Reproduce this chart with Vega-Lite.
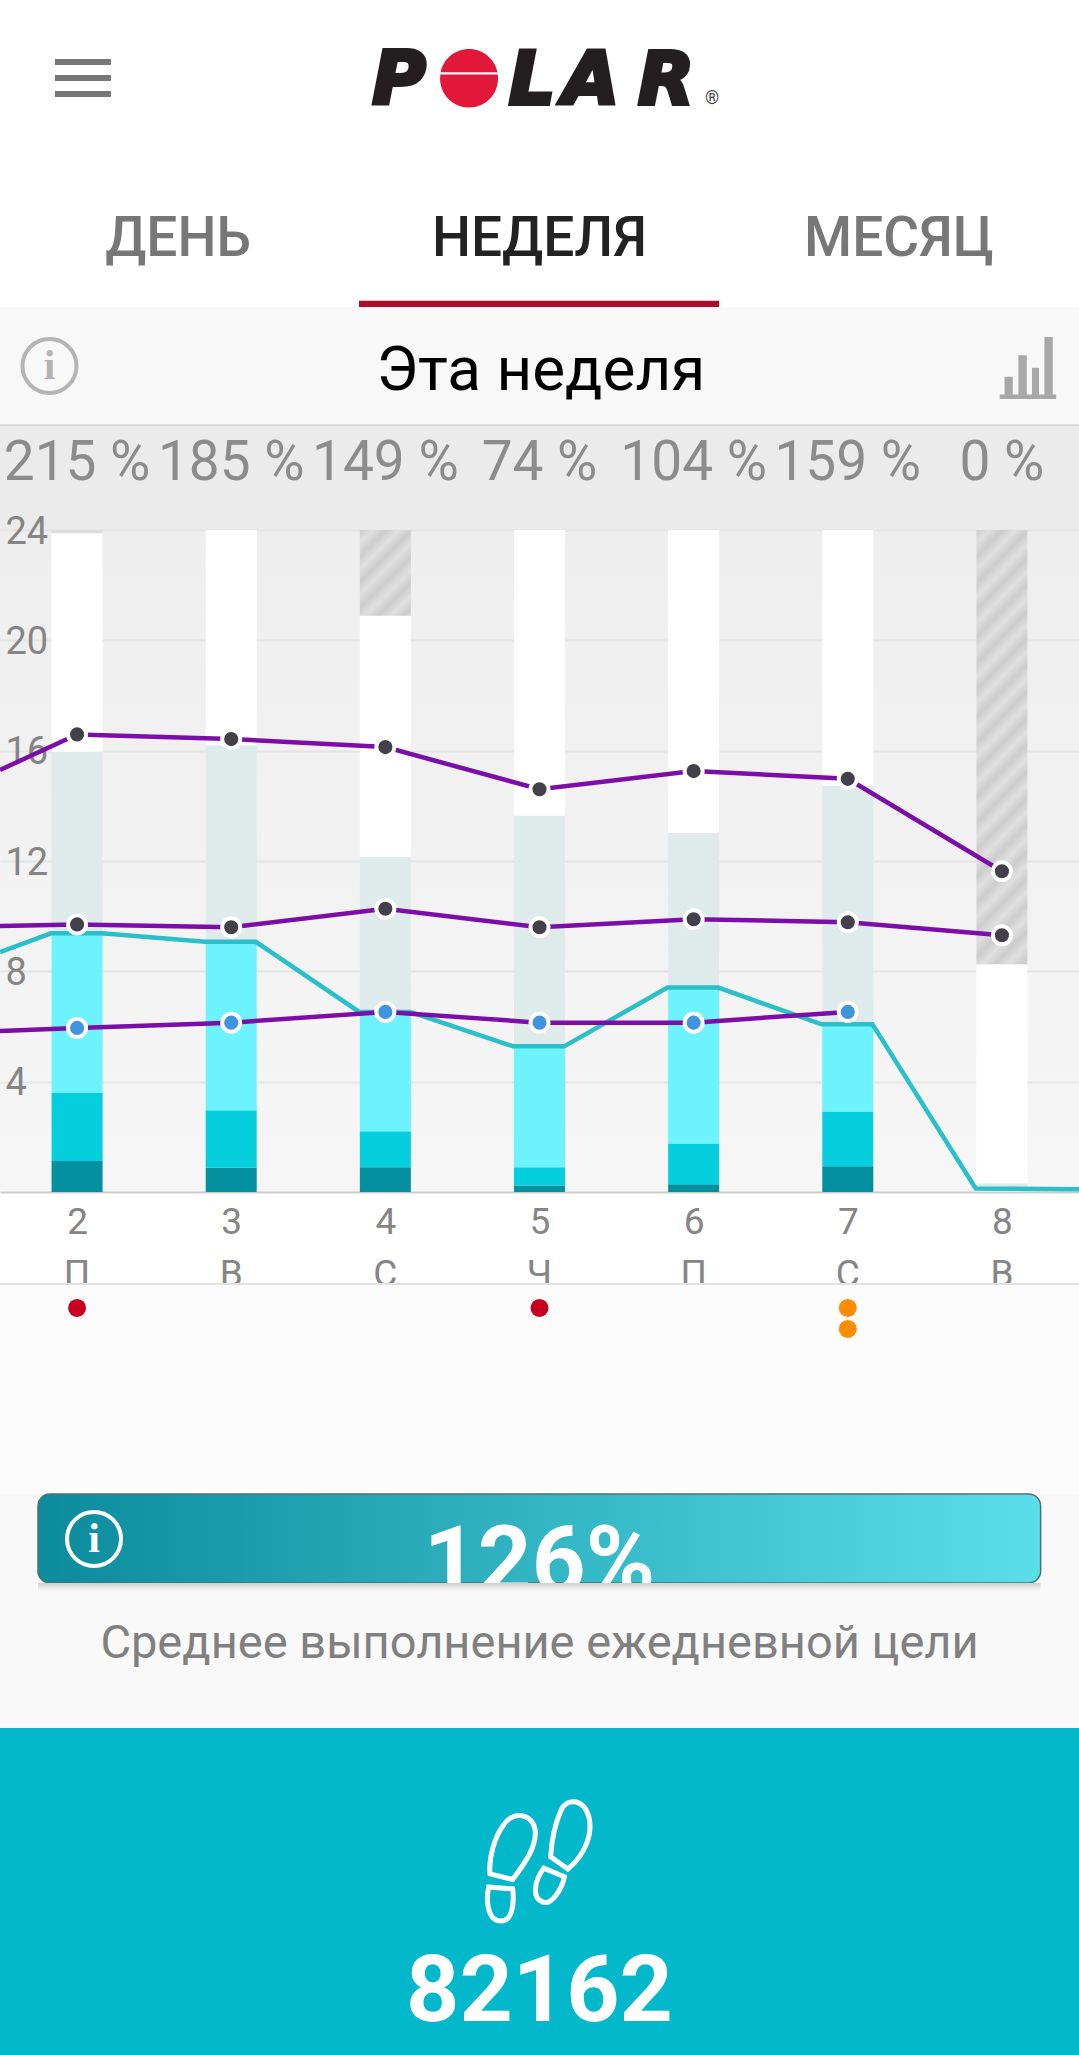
{
  "$schema": "https://vega.github.io/schema/vega-lite/v6.json",
  "description": "Polar weekly activity screen",
  "background": "#ffffff",
  "padding": 0,
  "spacing": 0,
  "bounds": "flush",
  "resolve": {"scale": {"color": "independent", "fill": "independent"}},
  "config": {"view": {"stroke": null}, "font": "Roboto"},
  "datasets": {
    "bars": [
      {"day": 2, "segment": "high", "from": 0, "to": 1.12},
      {"day": 2, "segment": "medium", "from": 1.12, "to": 3.61},
      {"day": 2, "segment": "low", "from": 3.61, "to": 9.38},
      {"day": 2, "segment": "rest", "from": 9.38, "to": 15.96},
      {"day": 2, "segment": "free", "from": 15.96, "to": 23.88},
      {"day": 3, "segment": "high", "from": 0, "to": 0.88},
      {"day": 3, "segment": "medium", "from": 0.88, "to": 2.96},
      {"day": 3, "segment": "low", "from": 2.96, "to": 9.07},
      {"day": 3, "segment": "rest", "from": 9.07, "to": 16.2},
      {"day": 3, "segment": "free", "from": 16.2, "to": 24},
      {"day": 4, "segment": "high", "from": 0, "to": 0.9},
      {"day": 4, "segment": "medium", "from": 0.9, "to": 2.2},
      {"day": 4, "segment": "low", "from": 2.2, "to": 6.53},
      {"day": 4, "segment": "rest", "from": 6.53, "to": 12.15},
      {"day": 4, "segment": "free", "from": 12.15, "to": 20.89},
      {"day": 5, "segment": "high", "from": 0, "to": 0.24},
      {"day": 5, "segment": "medium", "from": 0.24, "to": 0.9},
      {"day": 5, "segment": "low", "from": 0.9, "to": 5.28},
      {"day": 5, "segment": "rest", "from": 5.28, "to": 13.64},
      {"day": 5, "segment": "free", "from": 13.64, "to": 24},
      {"day": 6, "segment": "high", "from": 0, "to": 0.28},
      {"day": 6, "segment": "medium", "from": 0.28, "to": 1.76},
      {"day": 6, "segment": "low", "from": 1.76, "to": 7.41},
      {"day": 6, "segment": "rest", "from": 7.41, "to": 13.02},
      {"day": 6, "segment": "free", "from": 13.02, "to": 24},
      {"day": 7, "segment": "high", "from": 0, "to": 0.93},
      {"day": 7, "segment": "medium", "from": 0.93, "to": 2.92},
      {"day": 7, "segment": "low", "from": 2.92, "to": 6.08},
      {"day": 7, "segment": "rest", "from": 6.08, "to": 14.73},
      {"day": 7, "segment": "free", "from": 14.73, "to": 24},
      {"day": 8, "segment": "rest", "from": 0, "to": 0.32},
      {"day": 8, "segment": "free", "from": 0.32, "to": 8.26},
      {"day": 2, "segment": "sliver", "from": 23.88, "to": 24}
    ],
    "steps": [
      {"col": 1.5, "hours": 8.7},
      {"col": 1.83, "hours": 9.38},
      {"col": 2.16, "hours": 9.38},
      {"col": 2.83, "hours": 9.07},
      {"col": 3.16, "hours": 9.07},
      {"col": 3.83, "hours": 6.53},
      {"col": 4.16, "hours": 6.53},
      {"col": 4.83, "hours": 5.28},
      {"col": 5.16, "hours": 5.28},
      {"col": 5.83, "hours": 7.41},
      {"col": 6.16, "hours": 7.41},
      {"col": 6.83, "hours": 6.08},
      {"col": 7.16, "hours": 6.08},
      {"col": 7.83, "hours": 0.13},
      {"col": 8.5, "hours": 0.1}
    ],
    "sleep": [
      {"series": "wake", "col": 1.5, "hours": 15.3},
      {"series": "wake", "col": 2, "hours": 16.59},
      {"series": "wake", "col": 3, "hours": 16.42},
      {"series": "wake", "col": 4, "hours": 16.13},
      {"series": "wake", "col": 5, "hours": 14.6},
      {"series": "wake", "col": 6, "hours": 15.26},
      {"series": "wake", "col": 7, "hours": 14.98},
      {"series": "wake", "col": 8, "hours": 11.63},
      {"series": "bed", "col": 1.5, "hours": 9.64},
      {"series": "bed", "col": 2, "hours": 9.7},
      {"series": "bed", "col": 3, "hours": 9.6},
      {"series": "bed", "col": 4, "hours": 10.27},
      {"series": "bed", "col": 5, "hours": 9.6},
      {"series": "bed", "col": 6, "hours": 9.89},
      {"series": "bed", "col": 7, "hours": 9.78},
      {"series": "bed", "col": 8, "hours": 9.31},
      {"series": "score", "col": 1.5, "hours": 5.84},
      {"series": "score", "col": 2, "hours": 5.95},
      {"series": "score", "col": 3, "hours": 6.14},
      {"series": "score", "col": 4, "hours": 6.53},
      {"series": "score", "col": 5, "hours": 6.14},
      {"series": "score", "col": 6, "hours": 6.14},
      {"series": "score", "col": 7, "hours": 6.53}
    ]
  },
  "vconcat": [
    {
      "width": 1079,
      "height": 307,
      "encoding": {
        "x": {"field": "col", "type": "quantitative", "scale": {"domain": [1.5, 8.5], "nice": false}, "axis": null},
        "y": {"field": "row", "type": "quantitative", "scale": {"domain": [0, 1], "reverse": true, "nice": false}, "axis": null}
      },
      "layer": [
        {
          "data": {"values": [{"col": 2.038, "row": 0.254}]},
          "mark": {"type": "point", "shape": "M-1,-0.68H1V-0.464H-1Z M-1,-0.107H1V0.107H-1Z M-1,0.464H1V0.68H-1Z", "filled": true, "size": 3136, "color": "#777777", "opacity": 1}
        },
        {
          "data": {"values": [{"letter": "P", "col": 4.089, "row": 0.34}, {"letter": "L", "col": 4.951, "row": 0.34}, {"letter": "A", "col": 5.334, "row": 0.34}, {"letter": "R", "col": 5.821, "row": 0.34}]},
          "mark": {"type": "text", "font": "DejaVu Sans", "fontWeight": "bold", "fontStyle": "italic", "fontSize": 73, "baseline": "alphabetic", "align": "center", "color": "#231f20", "stroke": "#231f20", "strokeWidth": 4},
          "encoding": {"text": {"field": "letter"}}
        },
        {
          "data": {"values": [{"col": 4.543, "row": 0.254}]},
          "mark": {"type": "point", "shape": "M-0.98,-0.2A1,1 0 0 1 0.98,-0.2Z M-0.99,-0.12A1,1 0 1 0 0.99,-0.12Z", "filled": true, "size": 3364, "color": "#e3173a", "opacity": 1}
        },
        {
          "data": {"values": [{"mark": "®", "col": 6.119, "row": 0.322}]},
          "mark": {"type": "text", "fontSize": 18, "baseline": "middle", "color": "#444444"},
          "encoding": {"text": {"field": "mark"}}
        },
        {
          "data": {"values": [{"tab": "ДЕНЬ", "col": 2.655, "row": 0.834, "active": "no"}, {"tab": "НЕДЕЛЯ", "col": 5, "row": 0.834, "active": "yes"}, {"tab": "МЕСЯЦ", "col": 7.332, "row": 0.834, "active": "no"}]},
          "mark": {"type": "text", "fontSize": 55, "fontWeight": 500, "baseline": "alphabetic"},
          "encoding": {
            "text": {"field": "tab"},
            "color": {"field": "active", "type": "nominal", "scale": {"domain": ["no", "yes"], "range": ["#777777", "#222222"]}, "legend": null}
          }
        },
        {
          "data": {"values": [{"col": 3.829, "col2": 6.165, "row": 0.98, "row2": 1}]},
          "mark": {"type": "rect", "color": "#ae0c2a"},
          "encoding": {"x2": {"field": "col2"}, "y2": {"field": "row2"}}
        }
      ]
    },
    {
      "width": 1079,
      "height": 119,
      "view": {"fill": "#f8f8f8"},
      "encoding": {
        "x": {"field": "col", "type": "quantitative", "scale": {"domain": [1.5, 8.5], "nice": false}, "axis": null},
        "y": {"field": "row", "type": "quantitative", "scale": {"domain": [0, 1], "reverse": true, "nice": false}, "axis": null}
      },
      "layer": [
        {
          "data": {"values": [{"col": 1.821, "row": 0.496}]},
          "mark": {"type": "point", "shape": "circle", "filled": false, "size": 2916, "stroke": "#b4b4b4", "strokeWidth": 4, "opacity": 1}
        },
        {
          "data": {"values": [{"glyph": "i", "col": 1.821, "row": 0.496}]},
          "mark": {"type": "text", "font": "Liberation Serif", "fontSize": 42, "fontWeight": "bold", "baseline": "middle", "color": "#b4b4b4"},
          "encoding": {"text": {"field": "glyph"}}
        },
        {
          "data": {"values": [{"title": "Эта неделя", "col": 5.008, "row": 0.697}]},
          "mark": {"type": "text", "fontSize": 62, "baseline": "alphabetic", "color": "#000000"},
          "encoding": {"text": {"field": "title"}}
        },
        {
          "data": {"values": [{"col": 8.169, "row": 0.513}]},
          "mark": {"type": "point", "shape": "M-0.755,0.28H-0.49V1H-0.755Z M-0.31,-0.41H-0.04V1H-0.31Z M0.13,-0.01H0.356V1H0.13Z M0.53,-1H0.8V1H0.53Z M-0.91,0.85H0.91V1H-0.91Z", "filled": true, "size": 3844, "color": "#a8a8a8", "opacity": 1}
        },
        {
          "data": {"values": [{"col": 1.5, "col2": 8.5, "row": 0.985, "row2": 1}]},
          "mark": {"type": "rect", "color": "#d8d8d8"},
          "encoding": {"x2": {"field": "col2"}, "y2": {"field": "row2"}}
        }
      ]
    },
    {
      "width": 1079,
      "height": 104,
      "view": {"fill": "#ebebeb"},
      "data": {"values": [
        {"day": 2, "score": "215 %", "row": 0.519},
        {"day": 3, "score": "185 %", "row": 0.519},
        {"day": 4, "score": "149 %", "row": 0.519},
        {"day": 5, "score": "74 %", "row": 0.519},
        {"day": 6, "score": "104 %", "row": 0.519},
        {"day": 7, "score": "159 %", "row": 0.519},
        {"day": 8, "score": "0 %", "row": 0.519}
      ]},
      "mark": {"type": "text", "fontSize": 55, "baseline": "alphabetic", "color": "#8c8c8c"},
      "encoding": {
        "x": {"field": "day", "type": "quantitative", "scale": {"domain": [1.5, 8.5], "nice": false}, "axis": null},
        "y": {"field": "row", "type": "quantitative", "scale": {"domain": [0, 1], "reverse": true, "nice": false}, "axis": null},
        "text": {"field": "score"}
      }
    },
    {
      "width": 1079,
      "height": 662,
      "view": {"fill": {"gradient": "linear", "x1": 0, "y1": 0, "x2": 0, "y2": 1, "stops": [{"offset": 0, "color": "#eeeeee"}, {"offset": 1, "color": "#f6f6f6"}]}},
      "layer": [
        {
          "data": {"name": "bars"},
          "transform": [{"filter": "datum.segment != 'sliver'"}],
          "mark": {"type": "bar", "size": 51},
          "encoding": {
            "x": {"field": "day", "type": "quantitative", "scale": {"domain": [1.5, 8.5], "nice": false, "padding": 0}, "title": null, "axis": {"values": [2, 3, 4, 5, 6, 7, 8], "format": "d", "grid": false, "ticks": false, "domainColor": "#cccccc", "domainWidth": 2, "labelFontSize": 37, "labelColor": "#858585", "labelPadding": 12, "labelFont": "Roboto", "labelOverlap": false}},
            "y": {"field": "from", "type": "quantitative", "scale": {"domain": [0, 24], "nice": false}, "title": null, "axis": {"values": [4, 8, 12, 16, 20, 24], "grid": true, "gridColor": "#e4e4e4", "gridWidth": 2, "ticks": false, "domain": false, "labelAlign": "left", "labelPadding": -5, "labelOffset": 2, "labelFontSize": 38, "labelColor": "#858585", "labelFont": "Roboto", "labelOverlap": false}},
            "y2": {"field": "to"},
            "color": {"field": "segment", "type": "nominal", "scale": {"domain": ["high", "medium", "low", "rest", "free"], "range": ["#03919f", "#05cede", "#6cf3fd", "#dfebeb", "#ffffff"]}, "legend": null}
          }
        },
        {
          "data": {"values": [{"day": 2, "from": 23.88, "to": 24}]},
          "mark": {"type": "bar", "size": 51, "color": "#dcdcdc"},
          "encoding": {
            "x": {"field": "day", "type": "quantitative"},
            "y": {"field": "from", "type": "quantitative"},
            "y2": {"field": "to"}
          }
        },
        {
          "data": {"values": [{"day": 4, "from": 20.89, "to": 24}]},
          "mark": {"type": "bar", "size": 51, "color": {"gradient": "linear", "x1": 0, "y1": 0, "x2": 0.699, "y2": 1.1785, "stops": [
            {"offset": 0, "color": "#cccccc"}, {"offset": 0.095, "color": "#e0e0e0"}, {"offset": 0.19, "color": "#cccccc"}, {"offset": 0.285, "color": "#e0e0e0"}, {"offset": 0.38, "color": "#cccccc"}, {"offset": 0.475, "color": "#e0e0e0"}, {"offset": 0.57, "color": "#cccccc"}, {"offset": 0.665, "color": "#e0e0e0"}, {"offset": 0.76, "color": "#cccccc"}, {"offset": 0.855, "color": "#e0e0e0"}, {"offset": 0.95, "color": "#cccccc"}, {"offset": 1, "color": "#d8d8d8"}
          ]}},
          "encoding": {
            "x": {"field": "day", "type": "quantitative"},
            "y": {"field": "from", "type": "quantitative"},
            "y2": {"field": "to"}
          }
        },
        {
          "data": {"values": [{"day": 8, "from": 8.26, "to": 24}]},
          "mark": {"type": "bar", "size": 51, "color": {"gradient": "linear", "x1": 0, "y1": 0, "x2": 0.1328, "y2": 1.1044, "stops": [
            {"offset": 0, "color": "#cccccc"}, {"offset": 0.0274, "color": "#e0e0e0"}, {"offset": 0.0548, "color": "#cccccc"}, {"offset": 0.0822, "color": "#e0e0e0"}, {"offset": 0.1096, "color": "#cccccc"}, {"offset": 0.137, "color": "#e0e0e0"}, {"offset": 0.1644, "color": "#cccccc"}, {"offset": 0.1918, "color": "#e0e0e0"}, {"offset": 0.2192, "color": "#cccccc"}, {"offset": 0.2466, "color": "#e0e0e0"}, {"offset": 0.274, "color": "#cccccc"}, {"offset": 0.3014, "color": "#e0e0e0"}, {"offset": 0.3288, "color": "#cccccc"}, {"offset": 0.3562, "color": "#e0e0e0"}, {"offset": 0.3836, "color": "#cccccc"}, {"offset": 0.411, "color": "#e0e0e0"}, {"offset": 0.4384, "color": "#cccccc"}, {"offset": 0.4658, "color": "#e0e0e0"}, {"offset": 0.4932, "color": "#cccccc"}, {"offset": 0.5206, "color": "#e0e0e0"}, {"offset": 0.548, "color": "#cccccc"}, {"offset": 0.5754, "color": "#e0e0e0"}, {"offset": 0.6028, "color": "#cccccc"}, {"offset": 0.6302, "color": "#e0e0e0"}, {"offset": 0.6576, "color": "#cccccc"}, {"offset": 0.685, "color": "#e0e0e0"}, {"offset": 0.7124, "color": "#cccccc"}, {"offset": 0.7398, "color": "#e0e0e0"}, {"offset": 0.7672, "color": "#cccccc"}, {"offset": 0.7946, "color": "#e0e0e0"}, {"offset": 0.822, "color": "#cccccc"}, {"offset": 0.8494, "color": "#e0e0e0"}, {"offset": 0.8768, "color": "#cccccc"}, {"offset": 0.9042, "color": "#e0e0e0"}, {"offset": 0.9316, "color": "#cccccc"}, {"offset": 0.959, "color": "#e0e0e0"}, {"offset": 0.9864, "color": "#cccccc"}, {"offset": 1, "color": "#d4d4d4"}
          ]}},
          "encoding": {
            "x": {"field": "day", "type": "quantitative"},
            "y": {"field": "from", "type": "quantitative"},
            "y2": {"field": "to"}
          }
        },
        {
          "data": {"name": "steps"},
          "mark": {"type": "line", "color": "#2bbfc9", "strokeWidth": 4.5, "clip": true},
          "encoding": {
            "x": {"field": "col", "type": "quantitative"},
            "y": {"field": "hours", "type": "quantitative"}
          }
        },
        {
          "data": {"name": "sleep"},
          "mark": {"type": "line", "color": "#7c0da8", "strokeWidth": 4.5, "clip": true},
          "encoding": {
            "x": {"field": "col", "type": "quantitative"},
            "y": {"field": "hours", "type": "quantitative"},
            "detail": {"field": "series"}
          }
        },
        {
          "data": {"name": "sleep"},
          "transform": [{"filter": "datum.col >= 2"}],
          "mark": {"type": "circle", "size": 484, "color": "#ffffff", "opacity": 1},
          "encoding": {
            "x": {"field": "col", "type": "quantitative"},
            "y": {"field": "hours", "type": "quantitative"}
          }
        },
        {
          "data": {"name": "sleep"},
          "transform": [{"filter": "datum.col >= 2"}],
          "mark": {"type": "circle", "size": 200, "opacity": 1},
          "encoding": {
            "x": {"field": "col", "type": "quantitative"},
            "y": {"field": "hours", "type": "quantitative"},
            "fill": {"field": "series", "type": "nominal", "scale": {"domain": ["wake", "bed", "score"], "range": ["#44404a", "#44404a", "#3f94e0"]}, "legend": null}
          }
        }
      ]
    },
    {
      "width": 1079,
      "height": 91,
      "data": {"values": [
        {"day": 2, "weekday": "П", "row": 1.033},
        {"day": 3, "weekday": "В", "row": 1.033},
        {"day": 4, "weekday": "С", "row": 1.033},
        {"day": 5, "weekday": "Ч", "row": 1.033},
        {"day": 6, "weekday": "П", "row": 1.033},
        {"day": 7, "weekday": "С", "row": 1.033},
        {"day": 8, "weekday": "В", "row": 1.033}
      ]},
      "mark": {"type": "text", "fontSize": 37, "baseline": "alphabetic", "color": "#858585", "clip": true},
      "encoding": {
        "x": {"field": "day", "type": "quantitative", "scale": {"domain": [1.5, 8.5], "nice": false}, "axis": null},
        "y": {"field": "row", "type": "quantitative", "scale": {"domain": [0, 1], "reverse": true, "nice": false}, "axis": null},
        "text": {"field": "weekday"}
      }
    },
    {
      "width": 1079,
      "height": 211,
      "view": {"fill": "#fcfcfc"},
      "layer": [
        {
          "data": {"values": [{"col": 1.5, "col2": 8.5, "stack": -0.19, "stack2": -0.09}]},
          "mark": {"type": "rect", "color": "#e2e2e2"},
          "encoding": {
            "x": {"field": "col", "type": "quantitative", "scale": {"domain": [1.5, 8.5], "nice": false}, "axis": null},
            "x2": {"field": "col2"},
            "y": {"field": "stack", "type": "quantitative", "scale": {"domain": [-0.19, 9.86], "reverse": true, "nice": false, "zero": false}, "axis": null},
            "y2": {"field": "stack2"}
          }
        },
        {
          "data": {"values": [
            {"day": 2, "kind": "hard", "stack": 1},
            {"day": 5, "kind": "hard", "stack": 1},
            {"day": 7, "kind": "tip", "stack": 1},
            {"day": 7, "kind": "tip", "stack": 2}
          ]},
          "mark": {"type": "circle", "size": 324, "opacity": 1},
          "encoding": {
            "x": {"field": "day", "type": "quantitative"},
            "y": {"field": "stack", "type": "quantitative"},
            "fill": {"field": "kind", "type": "nominal", "scale": {"domain": ["hard", "tip"], "range": ["#c8001f", "#ff8c00"]}, "legend": null}
          }
        }
      ]
    },
    {
      "width": 1079,
      "height": 89,
      "view": {"fill": "#f8f8f8"},
      "encoding": {
        "x": {"field": "col", "type": "quantitative", "scale": {"domain": [1.5, 8.5], "nice": false}, "axis": null},
        "y": {"field": "row", "type": "quantitative", "scale": {"domain": [0, 1], "reverse": true, "nice": false}, "axis": null}
      },
      "layer": [
        {
          "data": {"values": [{"col": 1.7465, "col2": 8.251, "row": 0, "row2": 1}]},
          "mark": {"type": "rect", "cornerRadius": 12, "stroke": "#4f6f78", "strokeWidth": 1.5, "color": {"gradient": "linear", "x1": 0, "y1": 0, "x2": 1, "y2": 0, "stops": [{"offset": 0, "color": "#0b8b9c"}, {"offset": 1, "color": "#5adfea"}]}},
          "encoding": {"x2": {"field": "col2"}, "y2": {"field": "row2"}}
        },
        {
          "data": {"values": [{"col": 2.11, "row": 0.506}]},
          "mark": {"type": "point", "shape": "circle", "filled": false, "size": 2916, "stroke": "#ffffff", "strokeWidth": 4, "opacity": 1}
        },
        {
          "data": {"values": [{"glyph": "i", "col": 2.11, "row": 0.506}]},
          "mark": {"type": "text", "font": "Liberation Serif", "fontSize": 42, "fontWeight": "bold", "baseline": "middle", "color": "#ffffff"},
          "encoding": {"text": {"field": "glyph"}}
        },
        {
          "data": {"values": [{"goal": "126%", "col": 5, "row": 1.112}]},
          "mark": {"type": "text", "fontSize": 94, "fontWeight": "bold", "baseline": "alphabetic", "color": "#ffffff", "clip": true},
          "encoding": {"text": {"field": "goal"}}
        }
      ]
    },
    {
      "width": 1079,
      "height": 145,
      "view": {"fill": "#f9f9f9"},
      "encoding": {
        "x": {"field": "col", "type": "quantitative", "scale": {"domain": [1.5, 8.5], "nice": false}, "axis": null},
        "y": {"field": "row", "type": "quantitative", "scale": {"domain": [0, 1], "reverse": true, "nice": false}, "axis": null}
      },
      "layer": [
        {
          "data": {"values": [{"col": 1.7465, "col2": 8.251, "row": 0, "row2": 0.055}]},
          "mark": {"type": "rect", "color": {"gradient": "linear", "x1": 0, "y1": 0, "x2": 0, "y2": 1, "stops": [{"offset": 0, "color": "#cfcfcf"}, {"offset": 1, "color": "#f9f9f9"}]}},
          "encoding": {"x2": {"field": "col2"}, "y2": {"field": "row2"}}
        },
        {
          "data": {"values": [{"caption": "Среднее выполнение ежедневной цели", "col": 5, "row": 0.517}]},
          "mark": {"type": "text", "fontSize": 47, "baseline": "alphabetic", "color": "#808080"},
          "encoding": {"text": {"field": "caption"}}
        }
      ]
    },
    {
      "width": 1079,
      "height": 327,
      "view": {"fill": "#03b8ca"},
      "encoding": {
        "x": {"field": "col", "type": "quantitative", "scale": {"domain": [1.5, 8.5], "nice": false}, "axis": null},
        "y": {"field": "row", "type": "quantitative", "scale": {"domain": [0, 1], "reverse": true, "nice": false}, "axis": null}
      },
      "layer": [
        {
          "data": {"values": [{"col": 5, "row": 0.407}]},
          "mark": {"type": "point", "shape": "M0.472,0.133L0.185,-0.073C0.2,-0.3 0.25,-0.6 0.36,-0.85C0.45,-1.05 0.72,-1.05 0.82,-0.75C0.9,-0.45 0.75,-0.1 0.472,0.133Z M0.07,0.117L0.415,0.262C0.38,0.45 0.2,0.75 0.05,0.68C-0.12,0.62 -0.1,0.35 0.07,0.117Z M-0.447,0.307L-0.825,0.212C-0.85,-0.05 -0.75,-0.4 -0.6,-0.6C-0.45,-0.85 -0.1,-0.8 -0.07,-0.5C-0.05,-0.2 -0.3,0.1 -0.447,0.307Z M-0.848,0.433L-0.447,0.463C-0.42,0.7 -0.45,1 -0.642,1C-0.85,1 -0.9,0.7 -0.848,0.433Z", "filled": false, "size": 14400, "stroke": "#ffffff", "strokeWidth": 5, "opacity": 1}
        },
        {
          "data": {"values": [{"steps": "82162", "col": 5, "row": 0.896}]},
          "mark": {"type": "text", "fontSize": 93, "fontWeight": "bold", "baseline": "alphabetic", "color": "#ffffff"},
          "encoding": {"text": {"field": "steps"}}
        }
      ]
    }
  ]
}
